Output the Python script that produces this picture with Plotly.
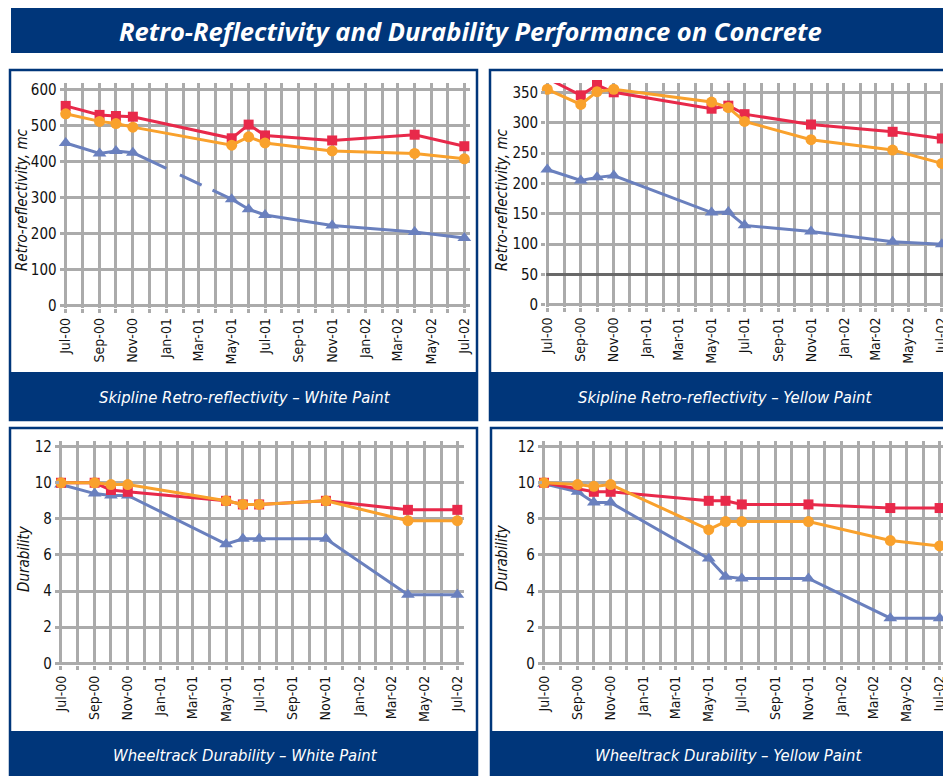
import plotly.graph_objects as go

# ---------------- data ----------------
dates = ["2000-07-01", "2000-09-01", "2000-10-01", "2000-11-01", "2001-05-01",
         "2001-06-01", "2001-07-01", "2001-11-01", "2002-04-01", "2002-07-01"]

# Skipline retro-reflectivity, white paint (mc)
tl_red = [555, 530, 527, 525, 465, 503, 473, 459, 475, 443]
tl_orange = [533, 512, 506, 496, 446, 469, 452, 430, 423, 408]
tl_blue = [452, 423, 430, 425, 296, 268, 252, 223, 205, 188]

# Skipline retro-reflectivity, yellow paint (mc)
tr_red = [373, 345, 362, 350, 323, 328, 314, 297, 285, 274]
tr_orange = [355, 330, 351, 355, 334, 325, 302, 272, 255, 233]
tr_blue = [223, 205, 210, 213, 152, 153, 131, 121, 104, 100]

# Wheeltrack durability, white paint
bl_red = [10.0, 10.0, 9.6, 9.5, 9.0, 8.8, 8.8, 9.0, 8.5, 8.5]
bl_orange = [10.0, 10.0, 9.9, 9.9, 9.0, 8.8, 8.8, 9.0, 7.9, 7.9]
bl_blue = [9.9, 9.4, 9.3, 9.3, 6.6, 6.9, 6.9, 6.9, 3.8, 3.8]

# Wheeltrack durability, yellow paint
br_red = [10.0, None, 9.5, 9.5, 9.0, 9.0, 8.8, 8.8, 8.6, 8.6]
br_orange = [10.0, 9.9, 9.8, 9.9, 7.4, 7.85, 7.85, 7.85, 6.8, 6.5]
br_blue = [9.95, 9.5, 8.9, 8.9, 5.8, 4.8, 4.7, 4.7, 2.5, 2.5]

title_text = "Retro-Reflectivity and Durability Performance on Concrete"
captions = ["Skipline Retro-reflectivity – White Paint",
            "Skipline Retro-reflectivity – Yellow Paint",
            "Wheeltrack Durability – White Paint",
            "Wheeltrack Durability – Yellow Paint"]
ytitles = ["Retro-reflectivity, mc", "Retro-reflectivity, mc", "Durability", "Durability"]

# ---------------- style ----------------
OX, OY = 8, 8          # page body margin offset
W, H = 943, 768
NAVY = "#00367a"
GRID = "#ababab"
RED = "#e8294a"
ORANGE = "#f9a12c"
BLUE = "#6a80be"
NARROW = "Liberation Sans Narrow, DejaVu Sans Condensed, Arial Narrow, sans-serif"


def px(x):
    return (x - OX) / W


def py(y):
    return 1 - (y - OY) / H


fig = go.Figure()


def add_series(xa, ya, red, orange, blue, dashed_gap=False):
    common = dict(xaxis=xa, yaxis=ya, showlegend=False, hoverinfo="x+y", cliponaxis=False)
    tri = dict(symbol="triangle-up", size=12, color=BLUE)
    if dashed_gap:
        fig.add_trace(go.Scatter(x=dates[:4], y=blue[:4], mode="lines+markers",
                                 line=dict(color=BLUE, width=3), marker=tri, **common))
        fig.add_trace(go.Scatter(x=dates[3:5], y=blue[3:5], mode="lines",
                                 line=dict(color=BLUE, width=3, dash="37px,15px,24px,12px,21px"),
                                 **common))
        fig.add_trace(go.Scatter(x=dates[4:], y=blue[4:], mode="lines+markers",
                                 line=dict(color=BLUE, width=3), marker=tri, **common))
    else:
        fig.add_trace(go.Scatter(x=dates, y=blue, mode="lines+markers",
                                 line=dict(color=BLUE, width=3), marker=tri, **common))
    fig.add_trace(go.Scatter(x=dates, y=red, mode="lines+markers", connectgaps=True,
                             line=dict(color=RED, width=3),
                             marker=dict(symbol="square", size=10, color=RED), **common))
    fig.add_trace(go.Scatter(x=dates, y=orange, mode="lines+markers",
                             line=dict(color=ORANGE, width=3),
                             marker=dict(symbol="circle", size=11, color=ORANGE), **common))


add_series("x", "y", tl_red, tl_orange, tl_blue, dashed_gap=True)
add_series("x2", "y2", tr_red, tr_orange, tr_blue)
add_series("x3", "y3", bl_red, bl_orange, bl_blue)
add_series("x4", "y4", br_red, br_orange, br_blue)


def xcfg(left, right, end, anchor):
    return dict(domain=[px(left), min(1, px(right))], range=["2000-06-29", end], type="date",
                anchor=anchor, tickformat="%b-%y", dtick="M2", tick0="2000-07-01",
                tickangle=-90, showgrid=True, gridcolor=GRID, gridwidth=3,
                ticks="outside", ticklen=4, tickwidth=3, tickcolor=GRID,
                minor=dict(dtick="M1", tick0="2000-07-01", showgrid=True, gridcolor=GRID,
                           gridwidth=3, ticks="outside", ticklen=4, tickwidth=3, tickcolor=GRID),
                zeroline=False, showline=False, automargin=False, fixedrange=True,
                tickfont=dict(family=NARROW, size=14, color="#111111"))


def ycfg(top, bottom, rng, dtick, anchor):
    return dict(domain=[py(bottom), py(top)], range=rng, dtick=dtick, tick0=0,
                anchor=anchor, showgrid=True, gridcolor=GRID, gridwidth=3,
                ticks="outside", ticklen=4, tickwidth=3, tickcolor=GRID,
                zeroline=False, showline=False, automargin=False, fixedrange=True,
                tickfont=dict(family=NARROW, size=15, color="#111111"))


fig.update_layout(
    xaxis=xcfg(64.6, 469.8, "2002-07-11", "y"),
    yaxis=ycfg(83, 307.5, [-5, 618.6], 100, "x"),
    xaxis2=xcfg(546.2, 951, "2002-07-18", "y2"),
    yaxis2=ycfg(83, 306.8, [-3, 365.3], 50, "x2"),
    xaxis3=xcfg(59.9, 464.4, "2002-07-14", "y3"),
    yaxis3=ycfg(440.7, 665.1, [-0.1, 12.33], 2, "x3"),
    xaxis4=xcfg(542.9, 951, "2002-07-22", "y4"),
    yaxis4=ycfg(440.7, 665.1, [-0.1, 12.33], 2, "x4"),
)

shapes = []
# title banner
shapes.append(dict(type="rect", xref="paper", yref="paper", x0=px(11), x1=px(960),
                   y0=py(53), y1=py(8), fillcolor=NAVY, line=dict(width=0), layer="below"))
panels = [(10, 477, 70, 420, 372), (490, 970, 70, 420, 372),
          (10, 477, 428, 790, 731), (491, 970, 428, 790, 731)]
for (x0, x1, y0, y1, cap) in panels:
    shapes.append(dict(type="rect", xref="paper", yref="paper", x0=px(x0), x1=px(x1),
                       y0=py(y1), y1=py(y0), line=dict(color=NAVY, width=2.5),
                       fillcolor="rgba(0,0,0,0)", layer="below"))
    shapes.append(dict(type="rect", xref="paper", yref="paper", x0=px(x0), x1=px(x1),
                       y0=py(y1), y1=py(cap), fillcolor=NAVY, line=dict(width=0), layer="below"))
# darker reference line at 50 in yellow retro-reflectivity panel
shapes.append(dict(type="line", xref="x2 domain", yref="y2", x0=0, x1=1, y0=50, y1=50,
                   line=dict(color="#686868", width=3), layer="above"))
fig.update_layout(shapes=shapes)

ann = []
ann.append(dict(text="<b><i>" + title_text + "</i></b>", x=px(470), y=py(31),
                xref="paper", yref="paper", showarrow=False, xanchor="center", yanchor="middle",
                font=dict(family="Open Sans, sans-serif", size=25.5, color="white")))
cap_pos = [(245, 397), (725, 397), (245, 755), (728, 755)]
for t, (cx, cy) in zip(captions, cap_pos):
    ann.append(dict(text="<i>" + t + "</i>", x=px(cx), y=py(cy), xref="paper", yref="paper",
                    showarrow=False, xanchor="center", yanchor="middle",
                    font=dict(family=NARROW, size=16.5, color="white")))
yt_pos = [(22, 200), (502, 200), (24, 559), (502, 558)]
for t, (cx, cy) in zip(ytitles, yt_pos):
    ann.append(dict(text="<i>" + t + "</i>", x=px(cx), y=py(cy), xref="paper", yref="paper",
                    showarrow=False, xanchor="center", yanchor="middle", textangle=-90,
                    font=dict(family=NARROW, size=15, color="#111111")))
fig.update_layout(annotations=ann)

fig.update_layout(width=W, height=H, margin=dict(l=0, r=0, t=0, b=0),
                  paper_bgcolor="white", plot_bgcolor="white", showlegend=False)

fig.write_html("out.html")
